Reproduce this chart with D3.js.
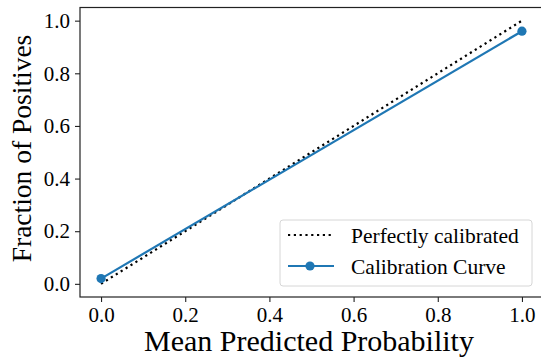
<!DOCTYPE html>
<html>
<head>
<meta charset="utf-8">
<script src="https://cdn.jsdelivr.net/npm/d3@7/dist/d3.min.js"></script>
<style>
  html, body { margin: 0; padding: 0; background: #fff; }
  svg { display: block; }
  svg text { font-family: 'Liberation Serif', 'DejaVu Serif', serif; fill: #000; }
</style>
</head>
<body>
<svg id="chart" width="541" height="357"></svg>
<script>
// Calibration curve data
const meanPredicted = [0.0, 1.0];
const fractionPositives = [0.02, 0.96];
const perfectX = [0.0, 1.0];
const perfectY = [0.0, 1.0];
const tickValues = [0.0, 0.2, 0.4, 0.6, 0.8, 1.0];
const seriesLabels = ["Perfectly calibrated", "Calibration Curve"];
const axisTitles = { x: "Mean Predicted Probability", y: "Fraction of Positives" };

const SERIF = "'Liberation Serif', 'DejaVu Serif', serif";
const plot = { left: 80, top: 7.5, right: 543, bottom: 297 };

const svg = d3.select("#chart");

// Domains padded by 5% on each side
const x = d3.scaleLinear().domain([-0.05, 1.05]).range([plot.left, plot.right]);
const y = d3.scaleLinear().domain([-0.05, 1.05]).range([plot.bottom, plot.top]);

const blue = "#1f77b4";

// Reference diagonal
const line = d3.line().x(d => x(d[0])).y(d => y(d[1]));
svg.append("path")
  .datum(d3.zip(perfectX, perfectY))
  .attr("d", line)
  .attr("fill", "none")
  .attr("stroke", "#000")
  .attr("stroke-width", 2.2)
  .attr("stroke-dasharray", "2.2,3.6");

// Calibration curve
const pts = d3.zip(meanPredicted, fractionPositives);
svg.append("path")
  .datum(pts)
  .attr("d", line)
  .attr("fill", "none")
  .attr("stroke", blue)
  .attr("stroke-width", 2.2);
svg.selectAll("circle.pt").data(pts).enter().append("circle")
  .attr("class", "pt")
  .attr("cx", d => x(d[0]))
  .attr("cy", d => y(d[1]))
  .attr("r", 4.6)
  .attr("fill", blue);

// Axes
const xAxis = d3.axisBottom(x).tickValues(tickValues).tickFormat(d3.format(".1f")).tickSize(5).tickPadding(5);
const yAxis = d3.axisLeft(y).tickValues(tickValues).tickFormat(d3.format(".1f")).tickSize(5).tickPadding(5);

const gx = svg.append("g").attr("transform", `translate(0,${plot.bottom})`).call(xAxis);
const gy = svg.append("g").attr("transform", `translate(${plot.left},0)`).call(yAxis);
[gx, gy].forEach(g => {
  g.attr("font-family", SERIF).attr("font-size", 21);
  g.select(".domain").remove();
  g.selectAll(".tick line").attr("stroke", "#222").attr("stroke-width", 1.1);
  g.selectAll(".tick text").attr("font-family", SERIF).attr("font-size", 21);
});

// Frame
svg.append("rect")
  .attr("x", plot.left).attr("y", plot.top)
  .attr("width", plot.right - plot.left).attr("height", plot.bottom - plot.top)
  .attr("fill", "none").attr("stroke", "#222").attr("stroke-width", 1.2);

// Axis titles
svg.append("text")
  .attr("x", 309)
  .attr("y", 351)
  .attr("text-anchor", "middle")
  .attr("font-family", SERIF)
  .attr("font-size", 30)
  .text(axisTitles.x);

svg.append("text")
  .attr("transform", "translate(31,148.5) rotate(-90)")
  .attr("text-anchor", "middle")
  .attr("font-family", SERIF)
  .attr("font-size", 27.5)
  .text(axisTitles.y);

// Legend
const lg = svg.append("g").attr("transform", "translate(280,220)");
lg.append("rect")
  .attr("width", 252).attr("height", 66)
  .attr("rx", 3)
  .attr("fill", "#fff").attr("fill-opacity", 0.8)
  .attr("stroke", "#d6d6d6").attr("stroke-width", 1);
lg.append("line")
  .attr("x1", 8).attr("x2", 52).attr("y1", 15).attr("y2", 15)
  .attr("stroke", "#000").attr("stroke-width", 2.2).attr("stroke-dasharray", "2.2,3.6");
lg.append("line")
  .attr("x1", 8).attr("x2", 54).attr("y1", 46).attr("y2", 46)
  .attr("stroke", blue).attr("stroke-width", 2.2);
lg.append("circle").attr("cx", 30).attr("cy", 46).attr("r", 4.6).attr("fill", blue);
lg.selectAll("text.lab").data(seriesLabels).enter().append("text")
  .attr("class", "lab")
  .attr("x", 71)
  .attr("y", (d, i) => 23 + i * 30.5)
  .attr("font-family", SERIF)
  .attr("font-size", 21.5)
  .text(d => d);
</script>
</body>
</html>
